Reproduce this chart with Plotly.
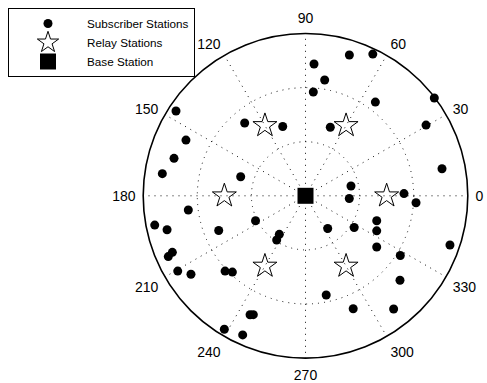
import plotly.graph_objects as go

# Subscriber stations (radius in grid units, angle in degrees)
sub_r = [2.861, 1.753, 2.438, 2.527, 2.678, 1.249, 2.726, 2.900, 2.441, 2.170,
         1.924, 2.989, 2.161, 1.348, 1.347, 2.583, 2.572, 0.860, 1.821, 0.811,
         2.047, 1.032, 0.730, 1.074, 1.395, 1.467, 0.861, 0.975, 1.621, 2.821,
         2.071, 2.343, 1.873, 2.266, 2.652, 2.425, 2.400, 2.822, 2.182, 2.839,
         2.635, 1.728, 2.674, 2.774, 2.741, 2.566, 2.036, 1.953, 2.888]
sub_theta = [146.8, 129.9, 155.0, 164.1, 171.2, 163.6, 72.7, 64.6, 86.3, 80.6,
             85.7, 37.2, 53.3, 108.2, 70.1, 30.4, 11.2, 12.2, 1.3, 356.5,
             356.4, 206.5, 304.2, 326.9, 340.7, 333.8, 235.8, 236.9, 324.3, 341.2,
             327.8, 318.2, 281.8, 292.9, 307.9, 245.0, 246.3, 245.7, 186.9, 191.0,
             193.8, 201.8, 203.0, 203.9, 210.5, 214.4, 223.1, 226.2, 238.7]

# Relay stations
relay_r = [1.5, 1.5, 1.5, 1.5, 1.5, 1.5]
relay_theta = [0, 60, 120, 180, 240, 300]

# Base station
base_r = [0]
base_theta = [0]

angle_ticks = list(range(0, 360, 30))
ring_vals = [1, 2, 3]
r_max = 3

FONT = "Liberation Sans, Arial, Helvetica, sans-serif"

fig = go.Figure()
fig.add_trace(go.Scatterpolar(
    r=sub_r, theta=sub_theta, mode="markers", name="Subscriber Stations",
    marker=dict(symbol="circle", size=9, color="black"), hoverinfo="skip"))
fig.add_trace(go.Scatterpolar(
    r=relay_r, theta=relay_theta, mode="markers", name="Relay Stations",
    marker=dict(symbol="star-open", size=18, color="black", line=dict(width=1, color="black")),
    hoverinfo="skip"))
fig.add_trace(go.Scatterpolar(
    r=base_r, theta=base_theta, mode="markers", name="Base Station",
    marker=dict(symbol="square", size=16, color="black"), hoverinfo="skip"))

fig.update_layout(
    width=487, height=383,
    margin=dict(l=0, r=0, t=0, b=0),
    paper_bgcolor="white", plot_bgcolor="white",
    font=dict(family=FONT, color="black"),
    polar=dict(
        domain=dict(x=[143.2 / 487, 467.8 / 487], y=[24.9 / 383, 349.5 / 383]),
        bgcolor="white",
        radialaxis=dict(range=[0, r_max], tickvals=ring_vals, showticklabels=False,
                        ticks="", showline=False, showgrid=True,
                        gridcolor="#111", gridwidth=1, griddash="1px,5px"),
        angularaxis=dict(rotation=0, direction="counterclockwise",
                         tickvals=angle_ticks, ticktext=[str(a) for a in angle_ticks],
                         tickfont=dict(size=14, family=FONT),
                         ticks="outside", ticklen=4, tickcolor="rgba(0,0,0,0)",
                         showline=True, linecolor="black", linewidth=1.6,
                         showgrid=True, gridcolor="#111", gridwidth=1, griddash="1px,5px"),
    ),
    showlegend=True,
    legend=dict(x=8 / 487, y=1 - 8 / 383, xanchor="left", yanchor="top",
                bgcolor="white", bordercolor="black", borderwidth=1,
                font=dict(size=11.7, family=FONT), itemwidth=68),
)

fig.write_html("out.html", config={"displayModeBar": False},
               post_script="document.body.style.margin='0';")
